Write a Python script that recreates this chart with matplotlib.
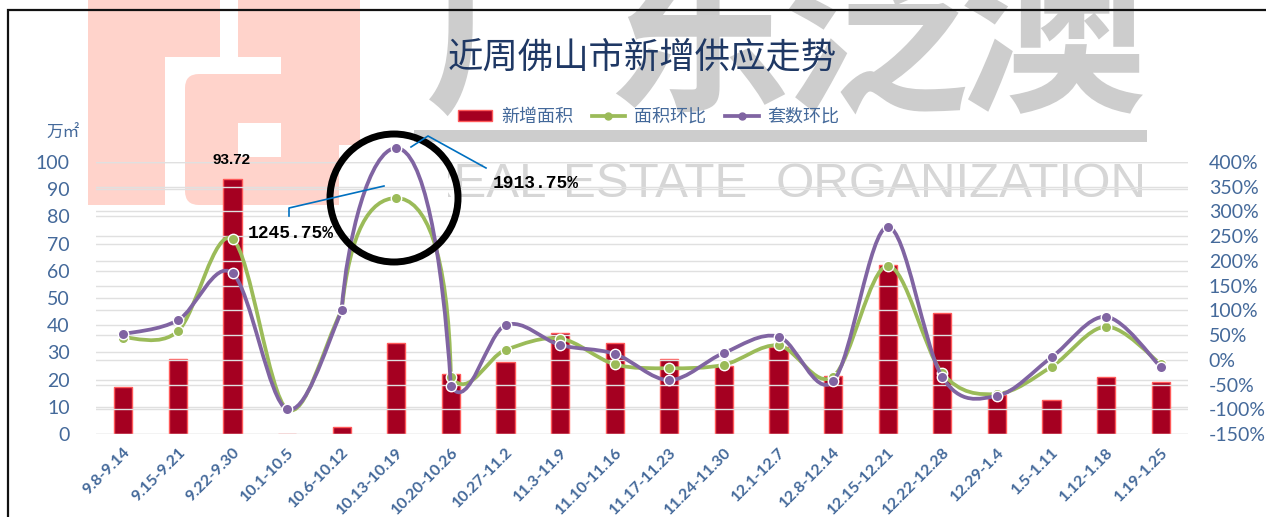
import matplotlib
matplotlib.use("Agg")
import matplotlib.pyplot as plt
import numpy as np
from matplotlib.lines import Line2D
from matplotlib.patches import Ellipse, FancyBboxPatch, PathPatch, Patch, Rectangle
from matplotlib.path import Path

plt.rcParams['font.family'] = ['Lato', 'Noto Sans CJK SC', 'DejaVu Sans']

periods = ['9.8-9.14', '9.15-9.21', '9.22-9.30', '10.1-10.5', '10.6-10.12', '10.13-10.19', '10.20-10.26',
           '10.27-11.2', '11.3-11.9', '11.10-11.16', '11.17-11.23', '11.24-11.30', '12.1-12.7', '12.8-12.14',
           '12.15-12.21', '12.22-12.28', '12.29-1.4', '1.5-1.11', '1.12-1.18', '1.19-1.25']
new_area = [17.4, 27.7, 93.72, 0, 2.7, 33.3, 22, 26.3, 37.3, 33.3, 27.7, 25, 31.9, 21.4, 62, 44.6, 14.3, 12.5, 20.8, 19.1]
area_change = [45, 58, 244, -100, 100, 327, -34, 20, 43, -9, -17, -10, 29, -34, 190, -27, -69, -14, 67, -8.5]
units_change = [52, 80, 175, -100, 100, 428, -53, 70, 30, 12, -41, 14, 47, -43.5, 269, -35, -73, 5, 87, -14.5]
left_ticks = list(range(0, 101, 10))
right_ticks = list(range(-150, 401, 50))

W, H = 1266, 517
RED, GREEN, PURPLE = '#a50021', '#9bbb59', '#8064a2'
BLUE = '#44699a'
PEAK = 5  # the reference redraws the curve by hand around this point


def smooth_path(xs, ys, arc):
    # same bezier rule as an Excel smoothed line, except the two segments at the peak
    pts = np.column_stack([xs, ys]).astype(float)
    verts, codes = [pts[0]], [Path.MOVETO]
    for i in range(len(pts) - 1):
        p0 = pts[max(i - 1, 0)]
        p1 = pts[i]
        p2 = pts[i + 1]
        p3 = pts[min(i + 2, len(pts) - 1)]
        c1 = p1 + (p2 - p0) / 6
        c2 = p2 - (p3 - p1) / 6
        if i == PEAK - 1:
            c1 = [xs[i] + arc[0], p1[1] + arc[1] * (p2[1] - p1[1])]
            c2 = [xs[i] + arc[2], p2[1]]
        elif i == PEAK:
            c1 = [xs[i] + arc[3], p1[1]]
            c2 = [xs[i] + arc[4], p1[1] + arc[5] * (p2[1] - p1[1])]
        verts += [c1, c2, p2]
        codes += [Path.CURVE4] * 3
    return Path(verts, codes)


fig = plt.figure(figsize=(W / 100, H / 100), dpi=100, facecolor='white')

# watermark layer, in pixel coordinates
bg = fig.add_axes([0, 0, 1, 1], zorder=0)
bg.set_xlim(0, W)
bg.set_ylim(H, 0)
bg.axis('off')

PINK = '#ffd3cb'
bg.add_patch(Rectangle((88, -5), 132, 210, fc=PINK, ec='none'))
bg.add_patch(FancyBboxPatch((185, -30), 175, 235, boxstyle='round,pad=0,rounding_size=14', fc=PINK, ec='none'))
bg.add_patch(Rectangle((165, 57), 116, 17, fc='white', ec='none', zorder=2))
bg.add_patch(Rectangle((165, 66), 40, 150, fc='white', ec='none', zorder=2))
bg.add_patch(FancyBboxPatch((185, 74), 60, 131, boxstyle='round,pad=0,rounding_size=14', fc=PINK, ec='none', zorder=2.5))
bg.add_patch(Rectangle((238, 123), 43, 34, fc='white', ec='none', zorder=3))
bg.add_patch(Rectangle((220, -5), 18, 62, fc='white', ec='none', zorder=2))

GRAY = '#cdcdcd'
for ch, cx in zip('广东泛澳', [518, 698, 875, 1052]):
    bg.text(cx, 97, ch, fontsize=135, color=GRAY, fontweight='bold', ha='center', va='baseline',
            family=['Noto Sans CJK SC'], zorder=3)
bg.add_patch(Rectangle((414, 130), 733, 12, fc=GRAY, ec='none', zorder=3))
for word, right in [('REAL', 546), ('ESTATE', 747), ('ORGANIZATION', 1147)]:
    bg.text(right, 197, word, fontsize=35.5, color='#d6d6d6', ha='right', va='baseline',
            family=['Liberation Sans'], zorder=3)
bg.add_patch(Rectangle((339, 145), 109, 118, fc='white', ec='none', zorder=4))

# chart frame
bg.plot([8, 8, W], [H, 10, 10], color='#111111', lw=1.6, solid_joinstyle='miter', zorder=5)

# chart axes
ax = fig.add_axes([96 / W, 1 - 434 / H, (1188 - 96) / W, (434 - 162) / H], zorder=1)
ax.patch.set_alpha(0)
x = np.arange(len(periods))
ax.bar(x, new_area, width=0.33, color=RED, edgecolor='#ff5a5a', linewidth=1, zorder=3)
ax.set_xlim(-0.5, len(periods) - 0.5)
ax.set_ylim(0, 100)
ax.set_yticks(left_ticks)
ax.set_xticks(x)
ax.set_xticklabels(periods, rotation=45, ha='right', rotation_mode='anchor', fontsize=11.5,
                   fontweight='bold', color=BLUE)
ax.tick_params(axis='x', length=0, pad=8)
ax.tick_params(axis='y', length=0, pad=19, labelsize=14, labelcolor=BLUE)
ax.grid(axis='y', color='#e0e0e0', lw=1, zorder=0)
ax.set_axisbelow(True)
for s in ax.spines.values():
    s.set_visible(False)

ax2 = ax.twinx()
ax2.patch.set_alpha(0)
ax2.set_ylim(-150, 400)
ax2.set_yticks(right_ticks)
ax2.set_yticklabels([f'{t}%' for t in right_ticks])
ax2.tick_params(axis='y', length=0, pad=15, labelsize=14, labelcolor=BLUE)
ax2.grid(axis='y', color='#e0e0e0', lw=1, zorder=0)
ax2.set_axisbelow(True)
for s in ax2.spines.values():
    s.set_visible(False)

curves = [(area_change, GREEN, 4, (0.15, 0.70, 0.51, 0.53, 0.95, 0.29)),
          (units_change, PURPLE, 5, (0.09, 0.43, 0.51, 0.49, 0.84, 0.43))]
for vals, col, z, arc in curves:
    ax2.add_patch(PathPatch(smooth_path(x, vals, arc), fc='none', ec=col, lw=2.7, capstyle='round',
                            clip_on=False, zorder=z))
    ax2.plot(x, vals, ls='none', marker='o', ms=7.5, mfc=col, mec='white', mew=1, clip_on=False, zorder=z + 0.5)

# top layer: title, legend, callouts
top = fig.add_axes([0, 0, 1, 1], zorder=2)
top.set_xlim(0, W)
top.set_ylim(H, 0)
top.axis('off')
top.text(642, 57, '近周佛山市新增供应走势', fontsize=25.5, color='#1f3864', ha='center', va='center',
         family=['Noto Sans CJK SC'])
top.text(63, 133, '万㎡', fontsize=12, color=BLUE, ha='center', va='center', family=['Noto Sans CJK SC'])
top.text(232, 160, f'{new_area[2]}', ha='center', va='center', fontsize=11, fontweight='bold', color='black',
         family=['Liberation Sans'])

handles = [Patch(fc=RED, ec='#ff5a5a', lw=1),
           Line2D([], [], color=GREEN, lw=2.7, marker='o', ms=5),
           Line2D([], [], color=PURPLE, lw=2.7, marker='o', ms=5)]
top.legend(handles, ['新增面积', '面积环比', '套数环比'], ncol=3, frameon=False, loc='center',
           bbox_to_anchor=(649 / W, 1 - 117 / H), labelcolor=BLUE, handlelength=1.85,
           handleheight=0.6, handletextpad=0.5, columnspacing=1.05,
           prop={'family': ['Noto Sans CJK SC'], 'size': 13})

top.add_patch(Ellipse((394, 198), 128, 128, fc='none', ec='black', lw=5, zorder=6))
top.plot([289, 289, 384], [216, 208, 186], color='#0070c0', lw=1.2, zorder=7)
top.plot([486, 428, 411], [168, 136, 147], color='#0070c0', lw=1.2, zorder=7)
top.text(248, 234, '1245.75%', fontsize=13, color='black', ha='left', va='center',
         family=['Liberation Mono'], fontweight='bold', zorder=7)
top.text(493, 183, '1913.75%', fontsize=13, color='black', ha='left', va='center',
         family=['Liberation Mono'], fontweight='bold', zorder=7)

fig.savefig('out.png', dpi=100)
